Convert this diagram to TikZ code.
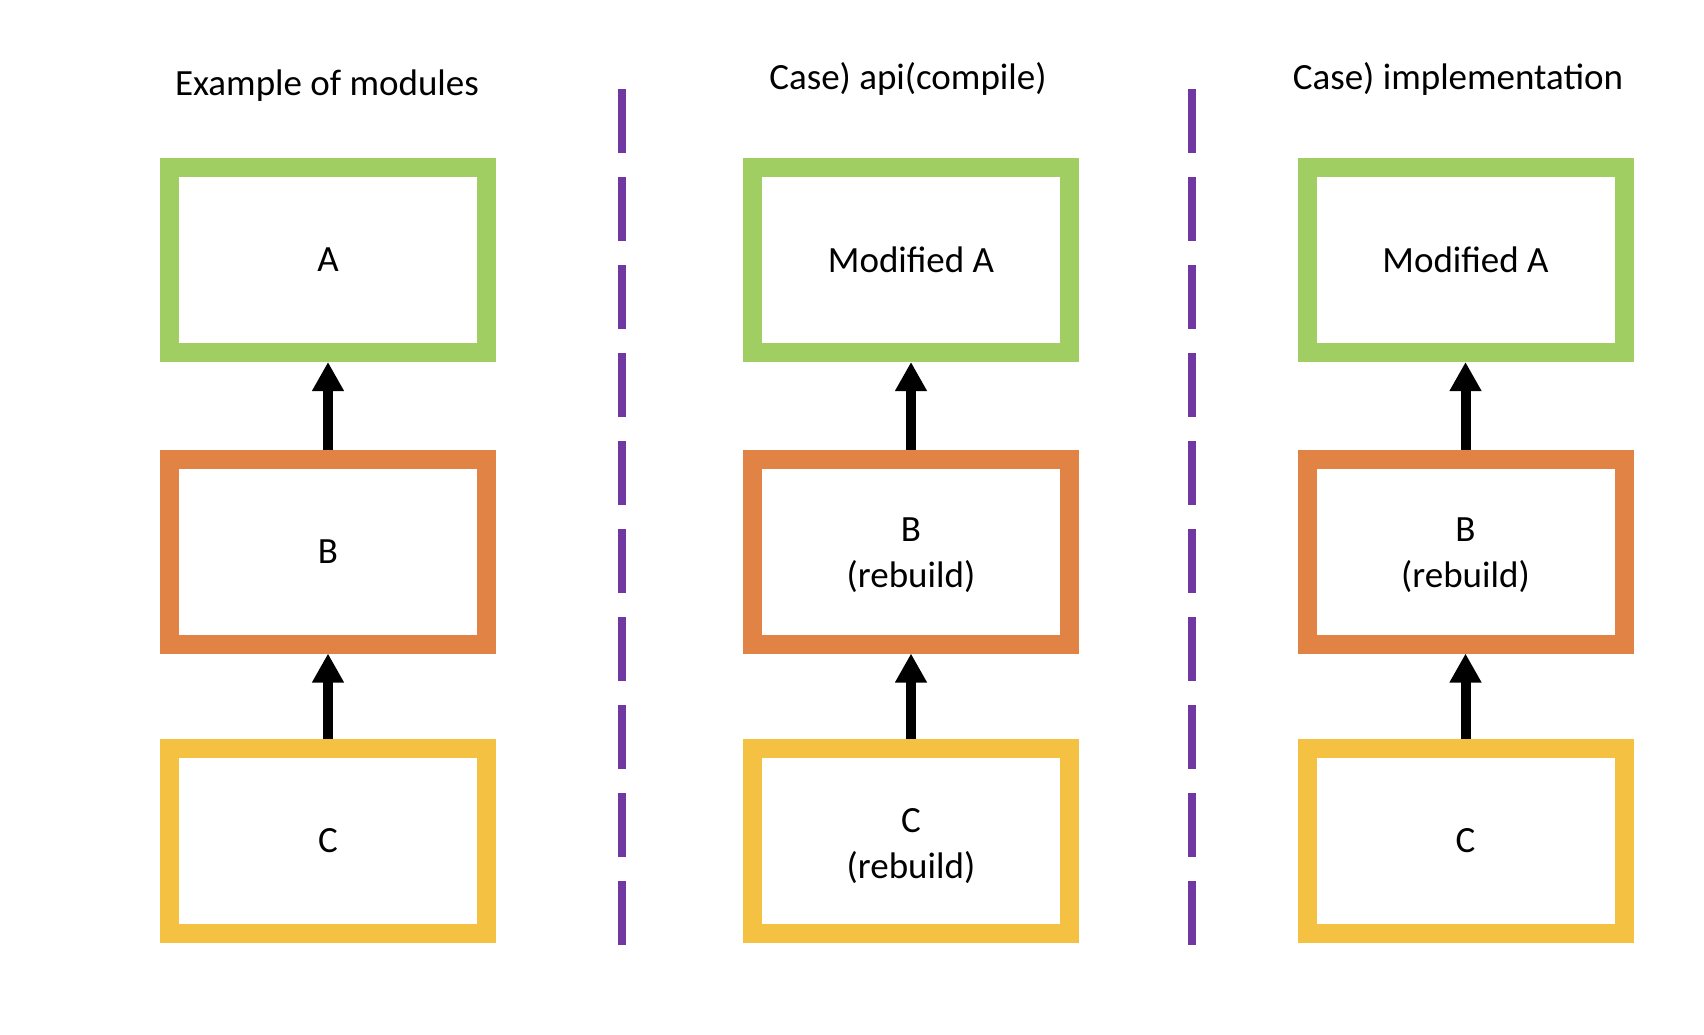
\documentclass[tikz,border=0pt]{standalone}
\usepackage{fontspec}
\setmainfont{Carlito}
\usetikzlibrary{arrows.meta}
\definecolor{boxgreen}{RGB}{161,206,98}
\definecolor{boxorange}{RGB}{224,131,69}
\definecolor{boxyellow}{RGB}{244,193,66}
\definecolor{divpurple}{RGB}{112,56,160}
\newcommand{\twolines}[3]{\raisebox{#1}[\height][\depth]{\begin{tabular}{@{}c@{}}#2\\#3\end{tabular}}}
\begin{document}
\begin{tikzpicture}[x=1pt,y=-1pt,
  modbox/.style={draw=#1, line width=19pt, minimum width=317pt, minimum height=185pt,
    inner sep=0pt, align=center, font=\fontsize{37}{46}\selectfont, fill=white},
  dep/.style={line width=10pt, -{Triangle[width=30pt,length=29pt]}},
  divider/.style={draw=divpurple, line width=8pt, dash pattern=on 64pt off 24pt},
  title/.style={font=\fontsize{37}{44}\selectfont, anchor=base}]
\useasboundingbox (0,0) rectangle (1704,1034);
% titles
\node[title] (t1) at (327,95) {Example of modules};
\node[title] (t2) at (908,89) {Case) api(compile)};
\node[title] (t3) at (1458,89) {Case) implementation};
% dividers
\coordinate (d1top) at (622,89);
\coordinate (d1bot) at (622,945);
\coordinate (d2top) at (1192,89);
\coordinate (d2bot) at (1192,945);
\draw[divider] (d1top) -- (d1bot);
\draw[divider] (d2top) -- (d2bot);
% column 1
\node[modbox=boxgreen] (a1) at (328,260) {A};
\node[modbox=boxorange] (b1) at (328,551.5) {B};
\node[modbox=boxyellow] (c1) at (328,841) {C};
% column 2
\node[modbox=boxgreen] (a2) at (911,260) {Modified A};
\node[modbox=boxorange] (b2) at (911,551.5) {\twolines{-3.5pt}{B}{(rebuild)}};
\node[modbox=boxyellow] (c2) at (911,841) {\twolines{-5.5pt}{C}{(rebuild)}};
% column 3
\node[modbox=boxgreen] (a3) at (1465.5,260) {Modified A};
\node[modbox=boxorange] (b3) at (1465.5,551.5) {\twolines{-3.5pt}{B}{(rebuild)}};
\node[modbox=boxyellow] (c3) at (1465.5,841) {C};
% dependencies
\draw[dep] (b1.north) -- (a1.south);
\draw[dep] (c1.north) -- (b1.south);
\draw[dep] (b2.north) -- (a2.south);
\draw[dep] (c2.north) -- (b2.south);
\draw[dep] (b3.north) -- (a3.south);
\draw[dep] (c3.north) -- (b3.south);
\end{tikzpicture}
\end{document}
